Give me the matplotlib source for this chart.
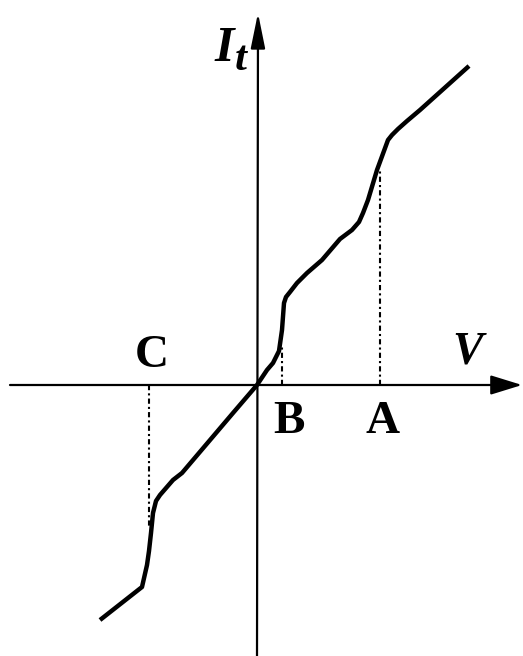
import matplotlib

matplotlib.use("Agg")
import matplotlib.pyplot as plt

# tunnelling current vs bias, traced in arbitrary units
V = [-1.57, -1.29, -1.15, -1.10, -1.08, -1.06, -1.04, -1.01, -0.97, -0.84,
     -0.75, -0.24, 0.00, 0.10, 0.16, 0.22, 0.25, 0.27, 0.29, 0.33, 0.40,
     0.50, 0.65, 0.83, 0.95, 1.02, 1.06, 1.11, 1.20, 1.31, 1.35, 1.41,
     1.50, 1.63, 2.12]
It = [-2.35, -2.13, -2.02, -1.80, -1.66, -1.48, -1.28, -1.16, -1.10, -0.95,
      -0.88, -0.28, 0.00, 0.15, 0.22, 0.34, 0.55, 0.82, 0.88, 0.93, 1.02,
      1.12, 1.25, 1.46, 1.55, 1.63, 1.72, 1.85, 2.15, 2.45, 2.50, 2.56,
      2.64, 2.75, 3.19]

# marker voltages and where their drop lines meet the curve
mark_names = ["A", "B", "C"]
mark_V = [1.23, 0.25, -1.08]
mark_I = [2.15, 0.40, -1.42]

fig = plt.figure(figsize=(5.23, 6.56), dpi=100)
ax = fig.add_axes([0, 0, 1, 1])
ax.set_xlim(-2.57, 2.66)
ax.set_ylim(-2.71, 3.85)
ax.axis("off")

# axes with arrow heads
ax.annotate("", xy=(2.65, 0), xytext=(-2.47, 0),
            arrowprops=dict(arrowstyle="-|>,head_length=0.97,head_width=0.3",
                            mutation_scale=20, lw=1.6, color="black",
                            shrinkA=0, shrinkB=0))
ax.annotate("", xy=(0.01, 3.72), xytext=(0, -2.72),
            arrowprops=dict(arrowstyle="-|>,head_length=1.08,head_width=0.22",
                            mutation_scale=20, lw=1.6, color="black",
                            shrinkA=0, shrinkB=0))

for mv, mi in zip(mark_V, mark_I):
    ax.plot([mv, mv], [0, mi], color="black", lw=1.5,
            linestyle=(0, (2.5, 1.5, 1, 1.5)))

ax.plot(V, It, color="black", lw=3.2, solid_joinstyle="round",
        solid_capstyle="butt")

serif = "Liberation Serif"
label_pos = {"A": (1.255, -0.48), "B": (0.325, -0.48), "C": (-1.05, 0.18)}
for name in mark_names:
    x, y = label_pos[name]
    ax.text(x, y, name, fontsize=34, fontweight="bold", family=serif,
            ha="center", va="baseline")

ax.text(2.105, 0.22, "V", fontsize=33, fontweight="bold", style="italic",
        family=serif, ha="center", va="baseline")
ax.text(-0.33, 3.24, "I", fontsize=36, fontweight="bold", style="italic",
        family=serif, ha="center", va="baseline")
ax.text(-0.16, 3.15, "t", fontsize=31, fontweight="bold", style="italic",
        family=serif, ha="center", va="baseline")

fig.savefig("out.png", dpi=100)
